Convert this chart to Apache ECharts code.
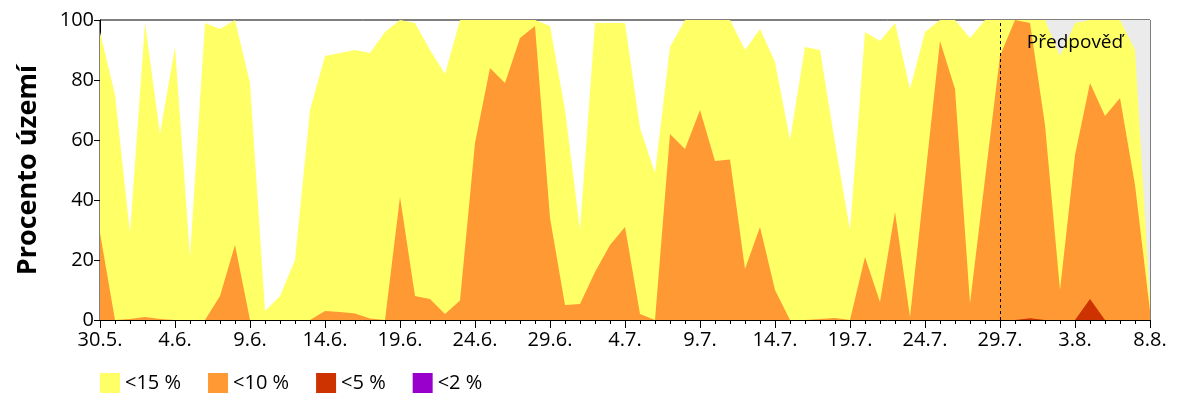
<!DOCTYPE html>
<html lang="cs">
<head>
	<meta charset="UTF-8">
	<title>Procento území</title>
	<style type="text/css">
		html, body { margin: 0; padding: 0; background: #fff; }
		#container { width: 1200px; height: 400px; }
	</style>
	<script type="text/javascript" src="https://cdn.jsdelivr.net/npm/echarts@6/dist/echarts.min.js"></script>
</head>
<body>
	<div id="container"></div>
	<script type="text/javascript">
	// dny od 30.5. do 8.8.
	var dates = [];
	var d = new Date(2000, 4, 30);
	for (var k = 0; k <= 70; k++) {
		dates.push(d.getDate() + '.' + (d.getMonth() + 1) + '.');
		d.setDate(d.getDate() + 1);
	}
	var forecastStart = 60; // 29.7.

	// procento území v kategoriích
	var p15 = [96, 75, 29, 99, 62, 91, 21, 99, 97, 100,
		79, 3, 8, 20, 70, 88, 89, 90, 89, 96,
		100, 99, 90, 82, 100, 100, 100, 100, 100, 100,
		98, 70, 30, 99, 99, 99, 64, 49, 91, 100,
		100, 100, 100, 90, 97, 86, 60, 91, 90, 59,
		30, 96, 93, 99, 77, 96, 100, 100, 94, 100,
		100, 100, 100, 100, 88, 99, 100, 100, 100, 90,
		6];
	var p10 = [29, 0, 0.3, 1, 0.3, 0, 0, 0, 8, 25,
		0, 0, 0, 0, 0, 3, 2.7, 2.2, 0.5, 0,
		41, 8, 7, 2, 6.5, 59, 84, 79, 94, 98,
		34, 5, 5.3, 16, 25, 31, 2, 0, 62, 57,
		70, 53, 53.5, 17, 31, 10, 0, 0, 0.3, 0.7,
		0, 21, 6, 36, 1, 47, 93, 77, 5.5, 47,
		88, 100, 99, 65, 10, 55, 79, 68, 74, 45,
		3];
	var p5 = [];
	var p2 = [];
	for (var k = 0; k <= 70; k++) { p5.push(0); p2.push(0); }
	p5[62] = 0.6;
	p5[66] = 7;

	var names = ['<15 %', '<10 %', '<5 %', '<2 %'];
	var colors = ['#FFFF66', '#FF9933', '#CC3300', '#9900CC'];
	var values = [p15, p10, p5, p2];

	var font = 'Open Sans';
	var myChart = echarts.init(document.getElementById('container'));

	var series = [{
		name: 'bg',
		type: 'line',
		data: [],
		z: 1,
		markArea: {
			silent: true,
			itemStyle: { color: '#EBEBEB' },
			data: [[{ xAxis: forecastStart }, { xAxis: 70 }]]
		}
	}];
	for (var s = 0; s < names.length; s++) {
		series.push({
			name: names[s],
			type: 'line',
			z: 2 + s,
			showSymbol: false,
			symbol: 'none',
			lineStyle: { width: 0 },
			itemStyle: { color: colors[s] },
			areaStyle: { color: colors[s], opacity: 1 },
			data: values[s].map(function (v, i) { return [i, v]; })
		});
	}
	series.push({
		name: 'forecast',
		type: 'line',
		data: [],
		z: 10,
		markLine: {
			silent: true,
			z: 10,
			symbol: ['none', 'none'],
			label: { show: false },
			lineStyle: { color: '#000', type: [3, 3], width: 1 },
			data: [{ xAxis: forecastStart }]
		},
		markPoint: {
			silent: true,
			z: 10,
			symbol: 'rect',
			symbolSize: 1,
			itemStyle: { color: 'rgba(0,0,0,0)' },
			label: {
				show: true,
				position: 'inside',
				color: '#000',
				fontFamily: font,
				fontSize: 19,
				formatter: 'Předpověď'
			},
			data: [{ coord: [65, 92.5] }]
		}
	});

	var option = {
		animation: false,
		textStyle: { fontFamily: font },
		grid: {
			left: 100, right: 50, top: 20, bottom: 80,
			show: true, borderColor: '#000', borderWidth: 1, backgroundColor: '#fff'
		},
		legend: {
			data: names,
			left: 100,
			top: 373,
			padding: 0,
			icon: 'rect',
			itemWidth: 20,
			itemHeight: 20,
			itemGap: 27,
			textStyle: { fontFamily: font, fontSize: 20, color: '#000' }
		},
		xAxis: {
			type: 'value',
			min: 0,
			max: 70,
			interval: 5,
			axisLine: { lineStyle: { color: '#000', width: 1 } },
			axisTick: { show: true, length: 8, lineStyle: { color: '#000' } },
			minorTick: { show: true, splitNumber: 5, length: 4, lineStyle: { color: '#000' } },
			splitLine: { show: false },
			axisLabel: {
				color: '#000', fontSize: 20, margin: 10, fontFamily: font,
				formatter: function (v) { return dates[v]; }
			}
		},
		yAxis: {
			type: 'value',
			min: 0,
			max: 100,
			interval: 20,
			name: 'Procento území',
			nameLocation: 'middle',
			nameGap: 58,
			nameTextStyle: { fontSize: 27, fontWeight: 'bold', color: '#000', fontFamily: font },
			axisLine: { show: true, lineStyle: { color: '#000', width: 1 } },
			axisTick: { show: true, length: 6, lineStyle: { color: '#000' } },
			splitLine: { show: false },
			axisLabel: { color: '#000', fontSize: 20, margin: 6, fontFamily: font }
		},
		series: series
	};
	myChart.setOption(option, true);
	</script>
</body>
</html>
